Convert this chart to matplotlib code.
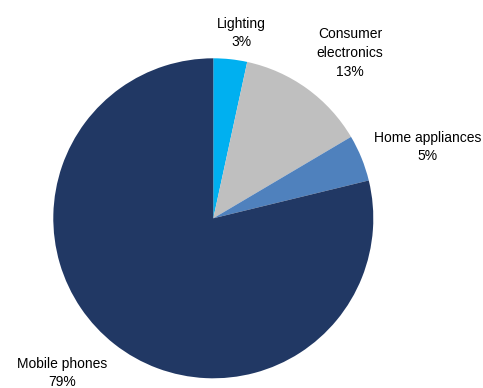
import matplotlib
matplotlib.use("Agg")
import matplotlib.pyplot as plt

# segment shares (%), clockwise from 12 o'clock
categories = ["Lighting", "Consumer\nelectronics", "Home appliances", "Mobile phones"]
shares = [3.4, 13.1, 4.7, 78.8]
colors = ["#00B0F0", "#BFBFBF", "#4F81BD", "#213864"]

plt.rcParams["font.family"] = ["Liberation Sans", "DejaVu Sans"]

W, H = 483, 388
fig = plt.figure(figsize=(W / 100, H / 100), dpi=100)

# pie centre at (213, 218) px, radius 160 px
cx, cy, r = 213.3, 218.3, 160.0
ax = fig.add_axes([(cx - r) / W, (H - cy - r) / H, 2 * r / W, 2 * r / H])
ax.pie(shares, colors=colors, startangle=90, counterclock=False,
       radius=1.0, wedgeprops=dict(linewidth=0))
ax.set_xlim(-1, 1)
ax.set_ylim(-1, 1)
ax.set_aspect("equal")
ax.axis("off")

# label anchors in pixels (centre of the text block)
label_px = [(241, 33), (350, 53), (428, 147), (62, 373)]
for name, val, (px, py) in zip(categories, shares, label_px):
    fig.text(px / W, 1 - py / H, f"{name}\n{round(val)}%",
             ha="center", va="center", multialignment="center",
             fontsize=10, linespacing=1.45, color="#000000")

fig.savefig("out.png", dpi=100)
